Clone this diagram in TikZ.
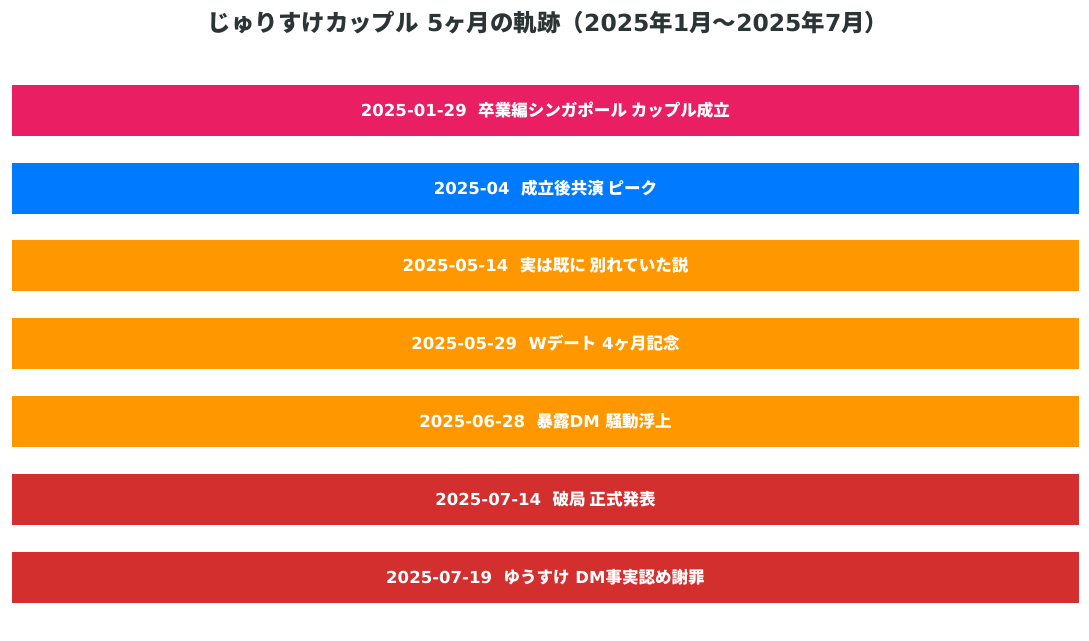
\documentclass[tikz,border=0pt]{standalone}
\usepackage{fontspec}
\setmainfont{DejaVu Sans}
\newfontfamily\jpfont{Noto Sans CJK JP}
\usepackage{tikz}
\newcommand{\jp}[1]{{\jpfont #1}}
\definecolor{evpink}{HTML}{E91E63}
\definecolor{evblue}{HTML}{007BFF}
\definecolor{evorange}{HTML}{FF9800}
\definecolor{evred}{HTML}{D32F2F}
\definecolor{titlegray}{HTML}{2D3436}
\tikzset{
  evbar/.style={fill=#1, draw=none, inner sep=0pt, minimum width=800.25pt,
    minimum height=38.25pt, text=white, font=\bfseries\fontsize{12.4}{14}\selectfont},
}
\begin{document}
\begin{tikzpicture}[x=0.75pt, y=-0.75pt]
    \useasboundingbox (0,0) rectangle (1089,640);
    % Title
    \node[text=titlegray, font=\bfseries\fontsize{17.6}{20}\selectfont] (title) at (548,22.5)
      {\jp{じゅりすけカップル} 5\jp{ヶ月の軌跡（}2025\jp{年}1\jp{月～}2025\jp{年}7\jp{月）}};

    % Events
    \node[evbar=evpink] (ev1) at (545.5,110.5) {2025-01-29\ \ \jp{卒業編シンガポール カップル成立}};
    \node[evbar=evblue] (ev2) at (545.5,188.5) {2025-04\ \ \jp{成立後共演 ピーク}};
    \node[evbar=evorange] (ev3) at (545.5,265.5) {2025-05-14\ \ \jp{実は既に 別れていた説}};
    \node[evbar=evorange] (ev4) at (545.5,343.5) {2025-05-29\ \ W\jp{デート} 4\jp{ヶ月記念}};
    \node[evbar=evorange] (ev5) at (545.5,421.5) {2025-06-28\ \ \jp{暴露}DM \jp{騒動浮上}};
    \node[evbar=evred] (ev6) at (545.5,499.5) {2025-07-14\ \ \jp{破局 正式発表}};
    \node[evbar=evred] (ev7) at (545.5,577.5) {2025-07-19\ \ \jp{ゆうすけ} DM\jp{事実認め謝罪}};
\end{tikzpicture}
\end{document}
